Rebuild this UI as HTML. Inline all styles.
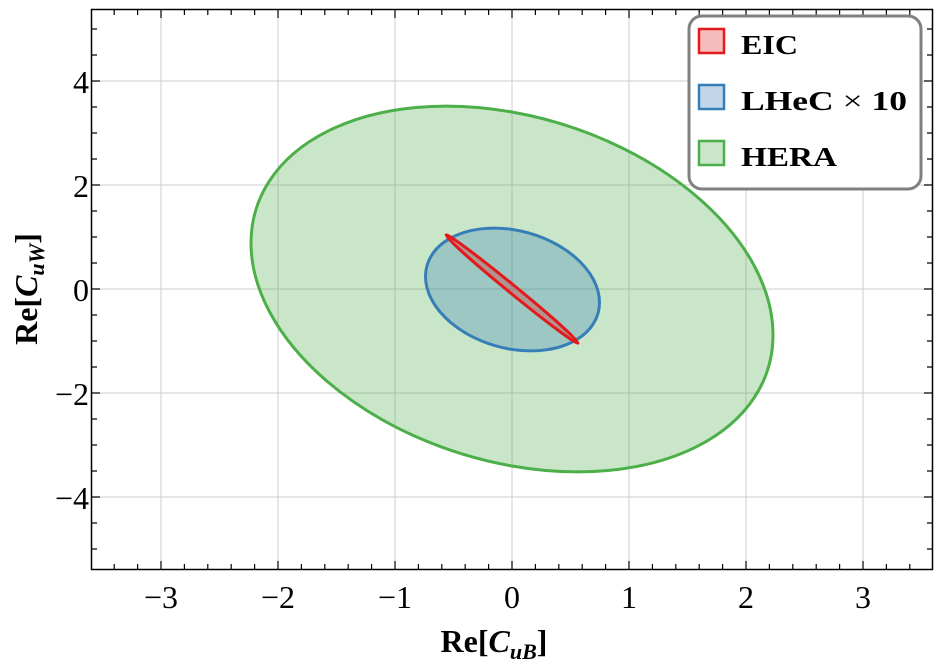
<!DOCTYPE html>
<html><head><meta charset="utf-8"><style>
body{margin:0;background:#fff}
svg text{font-family:"Liberation Serif",serif}
</style></head><body>
<svg width="946" height="667" xmlns="http://www.w3.org/2000/svg">
<g stroke="#cccccc" stroke-width="1">
<line x1="161" y1="10" x2="161" y2="569"/><line x1="278" y1="10" x2="278" y2="569"/>
<line x1="395" y1="10" x2="395" y2="569"/><line x1="512" y1="10" x2="512" y2="569"/>
<line x1="629" y1="10" x2="629" y2="569"/><line x1="746" y1="10" x2="746" y2="569"/>
<line x1="863" y1="10" x2="863" y2="569"/>
<line x1="92" y1="81" x2="932" y2="81"/><line x1="92" y1="185" x2="932" y2="185"/>
<line x1="92" y1="289" x2="932" y2="289"/><line x1="92" y1="393" x2="932" y2="393"/>
<line x1="92" y1="497" x2="932" y2="497"/>
</g>
<g stroke-width="3">
<ellipse cx="0" cy="0" rx="1" ry="1" transform="matrix(261,46,0,177,512,289)" fill="#4daf4a" fill-opacity="0.3" stroke="#4daf4a" vector-effect="non-scaling-stroke"/>
<ellipse cx="0" cy="0" rx="1" ry="1" transform="matrix(87,13,0,60,512.5,289.5)" fill="#377eb8" fill-opacity="0.3" stroke="#377eb8" vector-effect="non-scaling-stroke"/>
<ellipse cx="0" cy="0" rx="1" ry="1" transform="matrix(66,54,-2.5,3.1,512,289)" fill="#e31a1c" fill-opacity="0.3" stroke="#e31a1c" vector-effect="non-scaling-stroke"/>
</g>
<rect x="91.5" y="9.5" width="841" height="560" fill="none" stroke="#000" stroke-width="1.5"/>
<g stroke="#000" stroke-width="1.2">
<path id="tk" d=""/>
</g>
<script>
(function(){
var d="";
for(var i=-18;i<=18;i++){var x=512+i*23.4;if(x<92||x>932)continue;var L=(i%5==0)?8:5;
d+="M"+x+" 569V"+(569-L)+"M"+x+" 10V"+(10+L);}
for(var j=-10;j<=10;j++){var y=289-j*26;if(y<10||y>569)continue;var L=(j%4==0)?8:5;
d+="M92 "+y+"H"+(92+L)+"M932 "+y+"H"+(932-L);}
document.getElementById("tk").setAttribute("d",d);
})();
</script>
<g font-size="32" fill="#000" text-anchor="middle">
<text x="161" y="608">−3</text><text x="278" y="608">−2</text><text x="395" y="608">−1</text>
<text x="512" y="608">0</text><text x="629" y="608">1</text><text x="746" y="608">2</text><text x="863" y="608">3</text>
</g>
<g font-size="32" fill="#000" text-anchor="end">
<text x="89" y="93">4</text><text x="89" y="197">2</text><text x="89" y="301">0</text>
<text x="89" y="405">−2</text><text x="89" y="509">−4</text>
</g>
<text x="494" y="652" font-size="32" font-weight="bold" text-anchor="middle">Re[<tspan font-style="italic">C</tspan><tspan font-style="italic" font-size="22" dy="7">uB</tspan><tspan dy="-7">]</tspan></text>
<text transform="translate(37,289) rotate(-90)" font-size="32" font-weight="bold" text-anchor="middle">Re[<tspan font-style="italic">C</tspan><tspan font-style="italic" font-size="22" dy="7">uW</tspan><tspan dy="-7">]</tspan></text>
<rect x="689" y="16" width="232" height="173" rx="13" fill="#fff" stroke="#808080" stroke-width="3"/>
<g stroke-width="2.5">
<rect x="699" y="29" width="25" height="24" fill="#f6bcbd" stroke="#e31a1c"/>
<rect x="699" y="85" width="25" height="24" fill="#c2d7e9" stroke="#377eb8"/>
<rect x="699" y="141" width="25" height="24" fill="#cae7c9" stroke="#4daf4a"/>
</g>
<g font-size="27" font-weight="bold" fill="#000">
<text x="741" y="54" textLength="57" lengthAdjust="spacingAndGlyphs">EIC</text>
<text x="741" y="110" textLength="166" lengthAdjust="spacingAndGlyphs">LHeC <tspan font-weight="normal">×</tspan> 10</text>
<text x="741" y="166" textLength="96" lengthAdjust="spacingAndGlyphs">HERA</text>
</g>
</svg>
</body></html>
